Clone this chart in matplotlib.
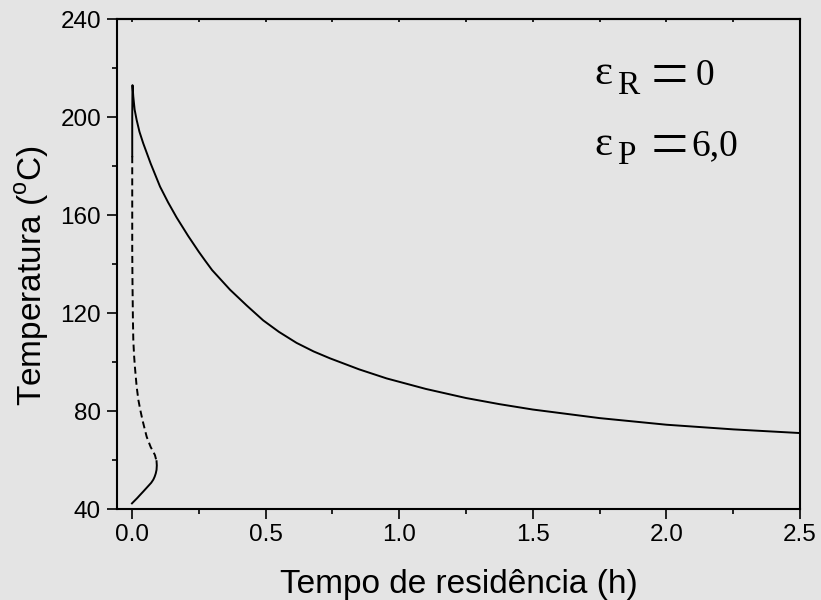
import matplotlib
matplotlib.use("Agg")
import matplotlib.pyplot as plt
from matplotlib.ticker import MultipleLocator

# ---- data ----
# upper (stable) branch: residence time (h) vs temperature (C)
upper_x = [0.001, 0.001, 0.002, 0.005, 0.01, 0.0175, 0.028, 0.042, 0.07, 0.105,
           0.135, 0.167, 0.21, 0.25, 0.273, 0.30, 0.367, 0.43, 0.491, 0.55,
           0.616, 0.68, 0.741, 0.85, 0.953, 1.1, 1.25, 1.375, 1.5, 1.75, 2.0, 2.25, 2.5]
upper_y = [184.0, 200.0, 213.0, 208.3, 203.0, 198.8, 194.0, 189.3, 181.0, 171.6,
           165.2, 159.0, 151.5, 145.0, 141.5, 137.5, 129.5, 123.0, 117.0, 112.3,
           107.8, 104.3, 101.5, 97.0, 93.3, 89.0, 85.3, 82.8, 80.6, 77.1, 74.4, 72.5, 71.0]
# middle (unstable) branch, dashed
middle_x = [0.001, 0.001, 0.001, 0.002, 0.0035, 0.005, 0.008, 0.011, 0.0175, 0.024,
            0.032, 0.04, 0.055, 0.07, 0.08, 0.086, 0.092]
middle_y = [184.0, 160.0, 145.7, 132.0, 118.0, 109.0, 102.5, 98.0, 90.0, 84.5,
            80.0, 76.0, 69.5, 65.3, 63.3, 62.0, 59.5]
# lower (stable) branch
lower_x = [0.092, 0.093, 0.092, 0.089, 0.085, 0.08, 0.072, 0.062, 0.052, 0.042,
           0.03, 0.02, 0.01, 0.0]
lower_y = [59.5, 57.8, 56.0, 54.5, 53.2, 52.0, 50.7, 49.5, 48.3, 47.1,
           45.7, 44.5, 43.4, 42.3]

x_ticks = [0.0, 0.5, 1.0, 1.5, 2.0, 2.5]
x_ticklabels = ["0.0", "0.5", "1.0", "1.5", "2.0", "2.5"]
y_ticks = [40, 80, 120, 160, 200, 240]
y_ticklabels = ["40", "80", "120", "160", "200", "240"]

xlabel = "Tempo de residência (h)"
ylabel = r"Temperatura ($^\mathregular{o}$C)"

# ---- figure ----
W, H = 821, 600
bg = "#e4e4e4"
plt.rcParams["font.family"] = ["Liberation Sans", "DejaVu Sans"]
fig = plt.figure(figsize=(W / 100, H / 100), dpi=100, facecolor=bg)
ax = fig.add_axes([117 / W, 1 - 509 / H, (800 - 117) / W, (509 - 19) / H])
ax.set_facecolor(bg)

lw = 1.4
ax.plot(upper_x, upper_y, color="black", lw=lw, solid_joinstyle="round")
ax.plot(middle_x, middle_y, color="black", lw=lw, dashes=(3.6, 2.1))
ax.plot(lower_x, lower_y, color="black", lw=lw, solid_joinstyle="round")

ax.set_xlim(-0.056, 2.5)
ax.set_ylim(40, 240)
ax.set_xticks(x_ticks)
ax.set_xticklabels(x_ticklabels)
ax.set_yticks(y_ticks)
ax.set_yticklabels(y_ticklabels)
ax.xaxis.set_minor_locator(MultipleLocator(0.25))
ax.yaxis.set_minor_locator(MultipleLocator(20))

for s in ax.spines.values():
    s.set_linewidth(1.5)

ax.tick_params(axis="both", which="major", direction="out", length=7.5, width=1.2,
               labelsize=17.5, pad=3)
ax.tick_params(axis="y", which="major", pad=4)
ax.tick_params(axis="both", which="minor", direction="out", length=3.8, width=1.2)

top = ax.secondary_xaxis("top")
top.set_xticks(x_ticks)
top.xaxis.set_minor_locator(MultipleLocator(0.25))
top.tick_params(which="both", direction="in", length=2.5, width=1.2, labeltop=False)
top.set_xticklabels([])
top.spines["top"].set_linewidth(1.5)

ax.set_xlabel(xlabel, fontsize=24)
ax.xaxis.label.set_va("baseline")
ax.xaxis.set_label_coords(0.5, (509 - 593) / 490)

ax.set_ylabel(ylabel, fontsize=24)
ax.yaxis.label.set_va("center")
ax.yaxis.label.set_ha("center")
ax.yaxis.set_label_coords((32.5 - 117) / 683, (509 - 276) / 490)

# ---- annotation ----
def px(xp, yp):
    return xp / W, 1 - yp / H

serif = ["Liberation Serif", "DejaVu Serif"]
fig.text(*px(594, 84), "ε", fontsize=31, family=serif, va="baseline", ha="left")
fig.text(*px(617, 94), "R", fontsize=24, family=serif, va="baseline", ha="left")
fig.text(*px(669, 73), "=", fontsize=48, family=serif, va="center_baseline", ha="center")
fig.text(*px(696, 85), "0", fontsize=27, family=serif, va="baseline", ha="left")

fig.text(*px(594, 155), "ε", fontsize=31, family=serif, va="baseline", ha="left")
fig.text(*px(617, 164), "P", fontsize=24, family=serif, va="baseline", ha="left")
fig.text(*px(669, 143), "=", fontsize=48, family=serif, va="center_baseline", ha="center")
fig.text(*px(691, 155), "6,0", fontsize=27, family=serif, va="baseline", ha="left")

fig.savefig("out.png", dpi=100, facecolor=bg)
